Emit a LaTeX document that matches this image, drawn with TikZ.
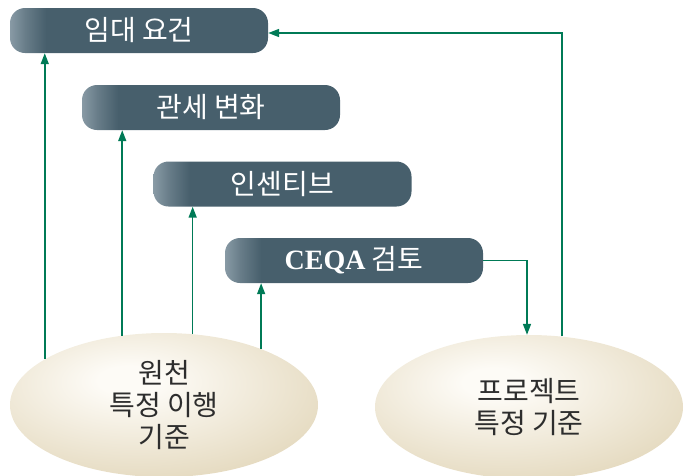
\documentclass[tikz,border=0pt]{standalone}
\usepackage{fontspec}
\newfontfamily\krfont{Noto Sans CJK KR}
\newfontfamily\latinfont{Liberation Serif}
\usetikzlibrary{arrows.meta,shapes.geometric}
\definecolor{boxbase}{RGB}{71,95,108}
\definecolor{boxhi}{RGB}{136,154,165}
\definecolor{ellin}{RGB}{253,251,246}
\definecolor{ellout}{RGB}{228,217,190}
\definecolor{flowgreen}{RGB}{0,122,86}
\definecolor{basetext}{RGB}{45,45,45}
\pgfdeclarehorizontalshading{boxshade}{100bp}{color(0bp)=(boxhi); color(25bp)=(boxhi); color(28bp)=(boxhi!50!boxbase); color(32bp)=(boxbase); color(100bp)=(boxbase)}
\pgfdeclareradialshading{ellshade}{\pgfpoint{-6bp}{9bp}}{color(0bp)=(ellin); color(5bp)=(ellin); color(34bp)=(ellout); color(100bp)=(ellout)}

\begin{document}
\begin{tikzpicture}[x=1pt, y=-1pt,
  task/.style={shade, shading=boxshade, rounded corners=15pt, minimum width=258pt, minimum height=45pt, inner sep=0pt, text=white, font=\krfont\fontsize{28}{32}\selectfont},
  basis/.style={ellipse, shade, shading=ellshade, minimum width=308pt, minimum height=144pt, inner sep=0pt, align=center, text=basetext, font=\krfont\fontsize{28}{32}\selectfont},
  flow/.style={draw=flowgreen, line width=1.6pt, -{Triangle[length=11pt,width=8pt]}}]
\useasboundingbox (0,0) rectangle (693,475);
% ---------- 상단 박스 ----------
\node[task] (rent)   at (139,30.5)  {임대 요건};
\node[task] (tariff) at (211,107.5) {관세 변화};
\node[task] (incent) at (282.5,184) {인센티브};
\node[task] (ceqa)   at (354,260.5) {{\latinfont\bfseries CEQA} 검토};
% ---------- 하단 타원 ----------
\node[basis] (src)  at (164,405) {원천\\특정 이행\\기준};
\node[basis] (proj) at (529,407) {프로젝트\\특정 기준};
% 원천 기준 -> 각 박스
\draw[flow] (src.159.4) -- (src.159.4 |- rent.south);
\draw[flow] (src.121.9) -- (src.121.9 |- tariff.south);
\draw[flow] (src.68.4) -- (src.68.4 |- incent.south);
\draw[flow] (src.30) -- (src.30 |- ceqa.south);
% CEQA 검토 <-> 프로젝트 기준
\draw[flow] (ceqa.east) -| ([xshift=-2pt]proj.north);
\draw[flow] (proj.65) |- ([yshift=-2.5pt]rent.east);
\end{tikzpicture}
\end{document}
